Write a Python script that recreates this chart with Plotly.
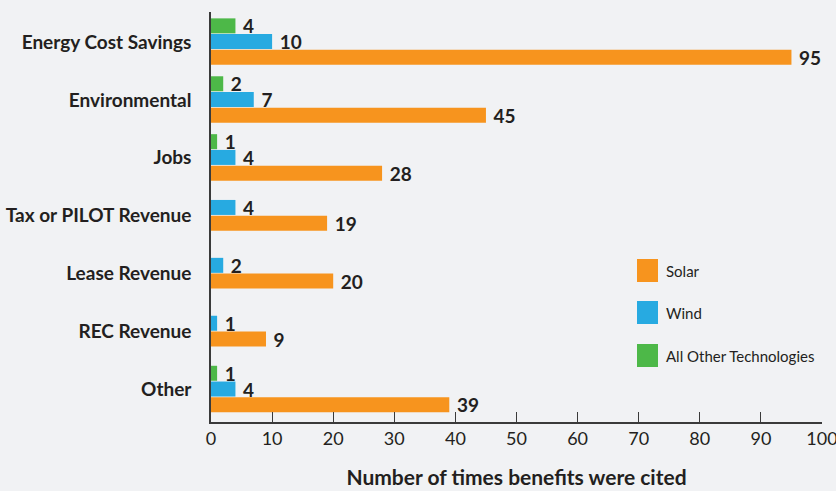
import plotly.graph_objects as go

categories = ["Energy Cost Savings", "Environmental", "Jobs", "Tax or PILOT Revenue",
              "Lease Revenue", "REC Revenue", "Other"]
other_tech = [4, 2, 1, None, None, None, 1]
wind = [10, 7, 4, 4, 2, 1, 4]
solar = [95, 45, 28, 19, 20, 9, 39]

series_names = ["All Other Technologies", "Wind", "Solar"]  # top to bottom within group
series_values = [other_tech, wind, solar]
series_colors = ["#4DB848", "#27AAE1", "#F7941E"]

x_ticks = list(range(0, 101, 10))

TEXT = "#231F20"
BG = "#F1F2F4"
BAR_W = 0.259
PITCH = 0.272

# per-bar offsets: centre the bars present in each category
offsets = [[None] * len(categories) for _ in series_values]
for i in range(len(categories)):
    present = [k for k, vals in enumerate(series_values) if vals[i] is not None]
    n = len(present)
    for j, k in enumerate(present):
        offsets[k][i] = (j - n / 2) * PITCH

fig = go.Figure()
for name, vals, col, offs in zip(series_names, series_values, series_colors, offsets):
    offs_clean = [o if o is not None else 0 for o in offs]
    fig.add_trace(go.Bar(
        y=categories, x=vals, orientation="h", name=name,
        marker=dict(color=col, line=dict(width=0)),
        width=BAR_W, offset=offs_clean,
        texttemplate=" %{x}", textposition="outside", constraintext="none",
        textfont=dict(family="Lato", size=19, color=TEXT, weight="bold"),
        cliponaxis=False, showlegend=False,
    ))

fig.update_layout(
    barmode="overlay",
    width=836, height=491,
    margin=dict(l=211, r=14, t=12, b=69),
    paper_bgcolor=BG, plot_bgcolor=BG,
    font=dict(family="Lato", color=TEXT),
    xaxis=dict(
        range=[0, 100], tickvals=x_ticks, ticks="inside", ticklen=10, tickwidth=1.3,
        tickcolor="#3a3a3a", showline=True, linecolor="#3a3a3a", linewidth=1.5,
        showgrid=False, zeroline=False, automargin=False, ticklabeloverflow="allow",
        tickfont=dict(family="Lato", size=18, color=TEXT),
        title=dict(text="Number of times benefits were cited", standoff=22,
                   font=dict(family="Lato", size=21, color=TEXT, weight="bold")),
    ),
    yaxis=dict(
        type="category", categoryorder="array", categoryarray=categories,
        range=[6.563, -0.518], showgrid=False, zeroline=False, automargin=False,
        showline=True, linecolor="#3a3a3a", linewidth=1.5, ticks="",
        ticklabelstandoff=14,
        tickfont=dict(family="Lato", size=19, color=TEXT, weight="bold"),
    ),
)

# manual legend with large square swatches
legend_names = ["Solar", "Wind", "All Other Technologies"]
legend_colors = ["#F7941E", "#27AAE1", "#4DB848"]
legend_centers_px = [270.5, 312.5, 355.5]
plot_top, plot_h, plot_left, plot_w = 12, 410, 211, 611
for nm, col, cy in zip(legend_names, legend_colors, legend_centers_px):
    y0 = 1 - (cy + 11.5 - plot_top) / plot_h
    y1 = 1 - (cy - 11.5 - plot_top) / plot_h
    fig.add_shape(type="rect", xref="paper", yref="paper",
                  x0=(637 - plot_left) / plot_w, x1=(658 - plot_left) / plot_w,
                  y0=y0, y1=y1, fillcolor=col, line=dict(width=0))
    fig.add_annotation(xref="paper", yref="paper", x=(664 - plot_left) / plot_w,
                       y=1 - (cy - plot_top) / plot_h, text=nm, showarrow=False,
                       xanchor="left", yanchor="middle",
                       font=dict(family="Lato", size=15, color=TEXT))

fig.write_html("out.html")
